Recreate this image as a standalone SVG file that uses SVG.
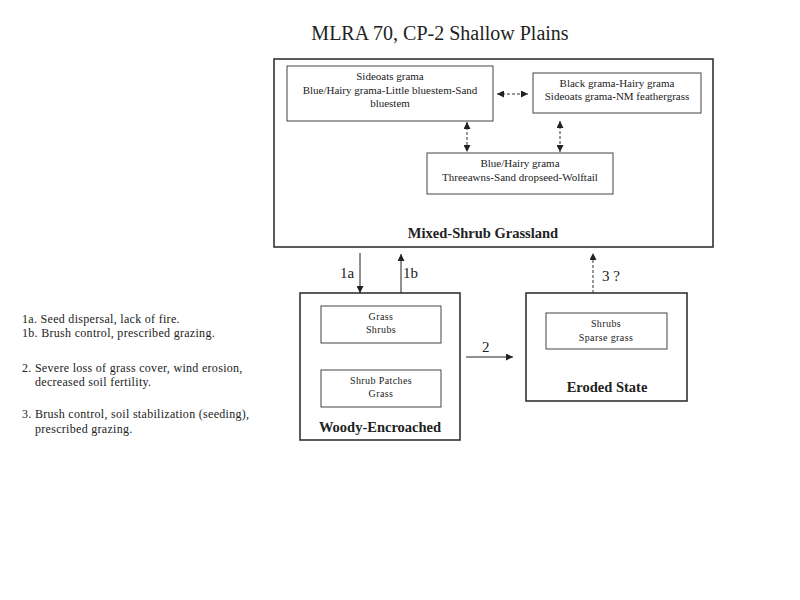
<svg xmlns="http://www.w3.org/2000/svg" width="800" height="600" viewBox="0 0 800 600">
<style>
text{font-family:"Liberation Serif","Times New Roman",serif;fill:#222}
.outer{fill:#fff;stroke:#333;stroke-width:1.6}
.inner{fill:#fff;stroke:#444;stroke-width:1}
.s{font-size:11px;text-anchor:middle}
.xs{font-size:10px;letter-spacing:0.4px;text-anchor:middle}
.lbl{font-size:14.5px;font-weight:bold;text-anchor:middle}
.num{font-size:15px}
.note{font-size:12px;letter-spacing:0.3px}
.c{stroke:#222;stroke-width:1;fill:none}
.d{stroke:#333;stroke-width:1;stroke-dasharray:3,2;fill:none}
</style>
<defs>
<marker id="ah" viewBox="0 0 10 10" refX="10" refY="5" markerWidth="7" markerHeight="7" markerUnits="userSpaceOnUse" orient="auto-start-reverse">
<path d="M0,0 L10,5 L0,10 z" fill="#222"/>
</marker>
</defs>
<rect width="800" height="600" fill="#fff"/>
<text x="440" y="40" font-size="20" text-anchor="middle">MLRA 70, CP-2 Shallow Plains</text>

<g id="mixed-shrub-grassland">
<rect class="outer" x="274" y="59" width="439" height="188"/>
<text class="lbl" x="483" y="238">Mixed-Shrub Grassland</text>
</g>
<g id="sideoats">
<rect class="inner" x="287" y="66" width="206" height="55"/>
<text class="s" x="390" y="80">Sideoats grama</text>
<text class="s" x="390" y="94">Blue/Hairy grama-Little bluestem-Sand</text>
<text class="s" x="390" y="107">bluestem</text>
</g>
<g id="black-grama">
<rect class="inner" x="533" y="73" width="168" height="40"/>
<text class="s" x="617" y="87">Black grama-Hairy grama</text>
<text class="s" x="617" y="100">Sideoats grama-NM feathergrass</text>
</g>
<g id="blue-hairy">
<rect class="inner" x="427" y="153" width="186" height="41"/>
<text class="s" x="520" y="167">Blue/Hairy grama</text>
<text class="s" x="520" y="181">Threeawns-Sand dropseed-Wolftail</text>
</g>

<g id="woody-encroached">
<rect class="outer" x="300" y="293" width="160" height="147"/>
<text class="lbl" x="380" y="432">Woody-Encroached</text>
</g>
<g id="grass-shrubs">
<rect class="inner" x="321" y="306" width="120" height="37"/>
<text class="xs" x="381" y="320">Grass</text>
<text class="xs" x="381" y="333">Shrubs</text>
</g>
<g id="shrub-patches">
<rect class="inner" x="321" y="370" width="120" height="37"/>
<text class="xs" x="381" y="384">Shrub Patches</text>
<text class="xs" x="381" y="397">Grass</text>
</g>

<g id="eroded-state">
<rect class="outer" x="526" y="293" width="161" height="108"/>
<text class="lbl" x="607" y="392">Eroded State</text>
</g>
<g id="shrubs-sparse">
<rect class="inner" x="546" y="313" width="121" height="36"/>
<text class="xs" x="606" y="327">Shrubs</text>
<text class="xs" x="606" y="341">Sparse grass</text>
</g>

<g id="connectors">
<line class="d" x1="497" y1="94" x2="528" y2="94" marker-start="url(#ah)" marker-end="url(#ah)"/>
<line class="d" x1="467" y1="122" x2="467" y2="152" marker-start="url(#ah)" marker-end="url(#ah)"/>
<line class="d" x1="560" y1="121" x2="560" y2="152" marker-start="url(#ah)" marker-end="url(#ah)"/>
<line class="c" x1="360" y1="253" x2="360" y2="293" marker-end="url(#ah)"/>
<line class="c" x1="401" y1="293" x2="401" y2="254" marker-end="url(#ah)"/>
<line class="c" x1="466" y1="357" x2="513" y2="357" marker-end="url(#ah)"/>
<line class="d" x1="593" y1="293" x2="593" y2="253" stroke="#666" marker-end="url(#ah)"/>
<text class="num" x="340" y="278">1a</text>
<text class="num" x="403" y="278">1b</text>
<text class="num" x="482" y="352">2</text>
<text class="num" x="602" y="281">3 ?</text>
</g>

<g id="notes">
<text class="note" x="22" y="323">1a. Seed dispersal, lack of fire.</text>
<text class="note" x="22" y="337">1b. Brush control, prescribed grazing.</text>
<text class="note" x="22" y="372">2. Severe loss of grass cover, wind erosion,</text>
<text class="note" x="35" y="386">decreased soil fertility.</text>
<text class="note" x="22" y="418">3. Brush control, soil stabilization (seeding),</text>
<text class="note" x="35" y="433">prescribed grazing.</text>
</g>
</svg>
